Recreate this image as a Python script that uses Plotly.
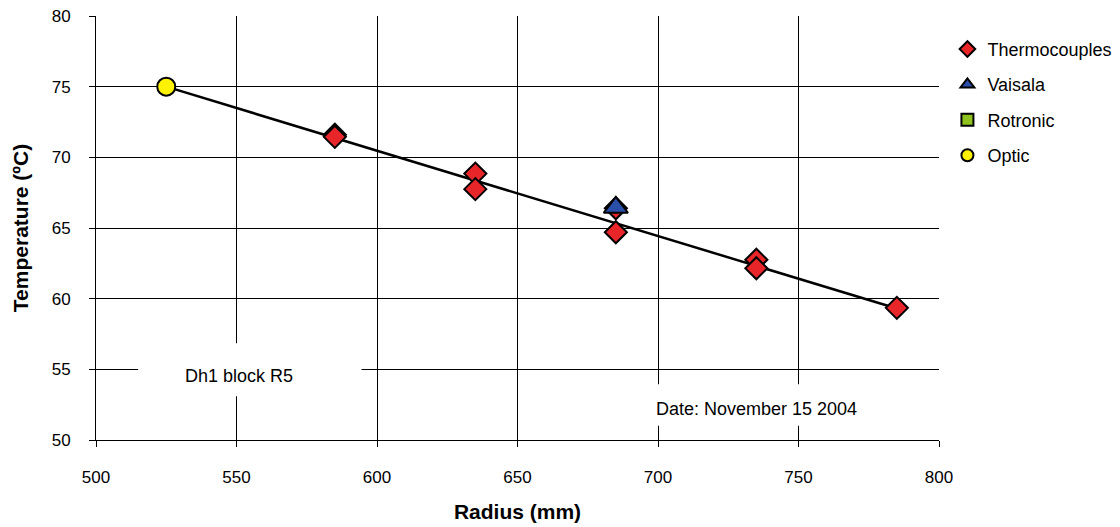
import plotly.graph_objects as go

# Data
tc_x = [585, 585, 635, 635, 685, 685, 735, 735, 785]
tc_y = [71.6, 71.45, 68.85, 67.75, 66.4, 64.7, 62.75, 62.15, 59.35]
vais_x = [685]
vais_y = [66.45]
rot_x = [None]
rot_y = [None]
optic_x = [525]
optic_y = [75.0]
fit_x = [525, 785]
fit_y = [75.0, 59.3]

FONT = "Arial, 'Liberation Sans', sans-serif"

fig = go.Figure()
fig.add_trace(go.Scatter(x=fit_x, y=fit_y, mode="lines",
                         line=dict(color="black", width=2.5),
                         showlegend=False, hoverinfo="skip"))
fig.add_trace(go.Scatter(x=tc_x, y=tc_y, mode="markers", name="Thermocouples",
                         legendgroup="a",
                         marker=dict(symbol="diamond", size=17, color="#E8262A",
                                     line=dict(color="black", width=2))))
fig.add_trace(go.Scatter(x=vais_x, y=vais_y, mode="markers", name="Vaisala",
                         legendgroup="b",
                         marker=dict(symbol="triangle-up", size=21, color="#2A4FA8",
                                     line=dict(color="black", width=2))))
fig.add_trace(go.Scatter(x=rot_x, y=rot_y, mode="markers", name="Rotronic",
                         legendgroup="c", showlegend=True,
                         marker=dict(symbol="square", size=13, color="#8DC21F",
                                     line=dict(color="black", width=2))))
fig.add_trace(go.Scatter(x=optic_x, y=optic_y, mode="markers", name="Optic",
                         legendgroup="d",
                         marker=dict(symbol="circle", size=18, color="#FFF200",
                                     line=dict(color="black", width=2))))

# white boxes behind texts (cover gridlines)
fig.add_shape(type="rect", x0=515, x1=594.5, y0=53.1, y1=56.85,
              fillcolor="white", line=dict(width=0), layer="above")
fig.add_shape(type="rect", x0=694, x1=777, y0=51.0, y1=53.95,
              fillcolor="white", line=dict(width=0), layer="above")
fig.add_annotation(x=551, y=54.5, text="Dh1 block R5", showarrow=False,
                   font=dict(family=FONT, size=18, color="black"))
fig.add_annotation(x=735, y=52.2, text="Date: November 15 2004", showarrow=False,
                   font=dict(family=FONT, size=18, color="black"))

fig.update_layout(
    width=1120, height=527,
    margin=dict(l=88, r=189, t=8, b=95, autoexpand=False),
    paper_bgcolor="white", plot_bgcolor="white",
    font=dict(family=FONT, size=17, color="black"),
    legend=dict(x=1.01, y=0.965, xanchor="left", yanchor="top",
                font=dict(family=FONT, size=18, color="black"),
                tracegroupgap=9, itemsizing="constant", itemwidth=30),
    xaxis=dict(range=[500, 800], dtick=50, showgrid=True, gridcolor="black",
               gridwidth=1, showline=True, linecolor="black", linewidth=1,
               mirror=False, ticks="outside", ticklen=6, tickcolor="black",
               ticklabelstandoff=16, zeroline=False, automargin=False,
               ticklabeloverflow="allow", tickfont=dict(size=17),
               title=dict(text="<b>Radius (mm)</b>", font=dict(size=21), standoff=17)),
    yaxis=dict(range=[50, 80], dtick=5, showgrid=True, gridcolor="black",
               gridwidth=1, showline=True, linecolor="black", linewidth=1,
               ticks="outside", ticklen=6, tickcolor="black",
               ticklabelstandoff=15, zeroline=False, automargin=False,
               ticklabeloverflow="allow", tickfont=dict(size=17),
               title=dict(text="<b>Temperature (ºC)</b>", font=dict(size=21), standoff=17)),
)

fig.write_html("out.html")
